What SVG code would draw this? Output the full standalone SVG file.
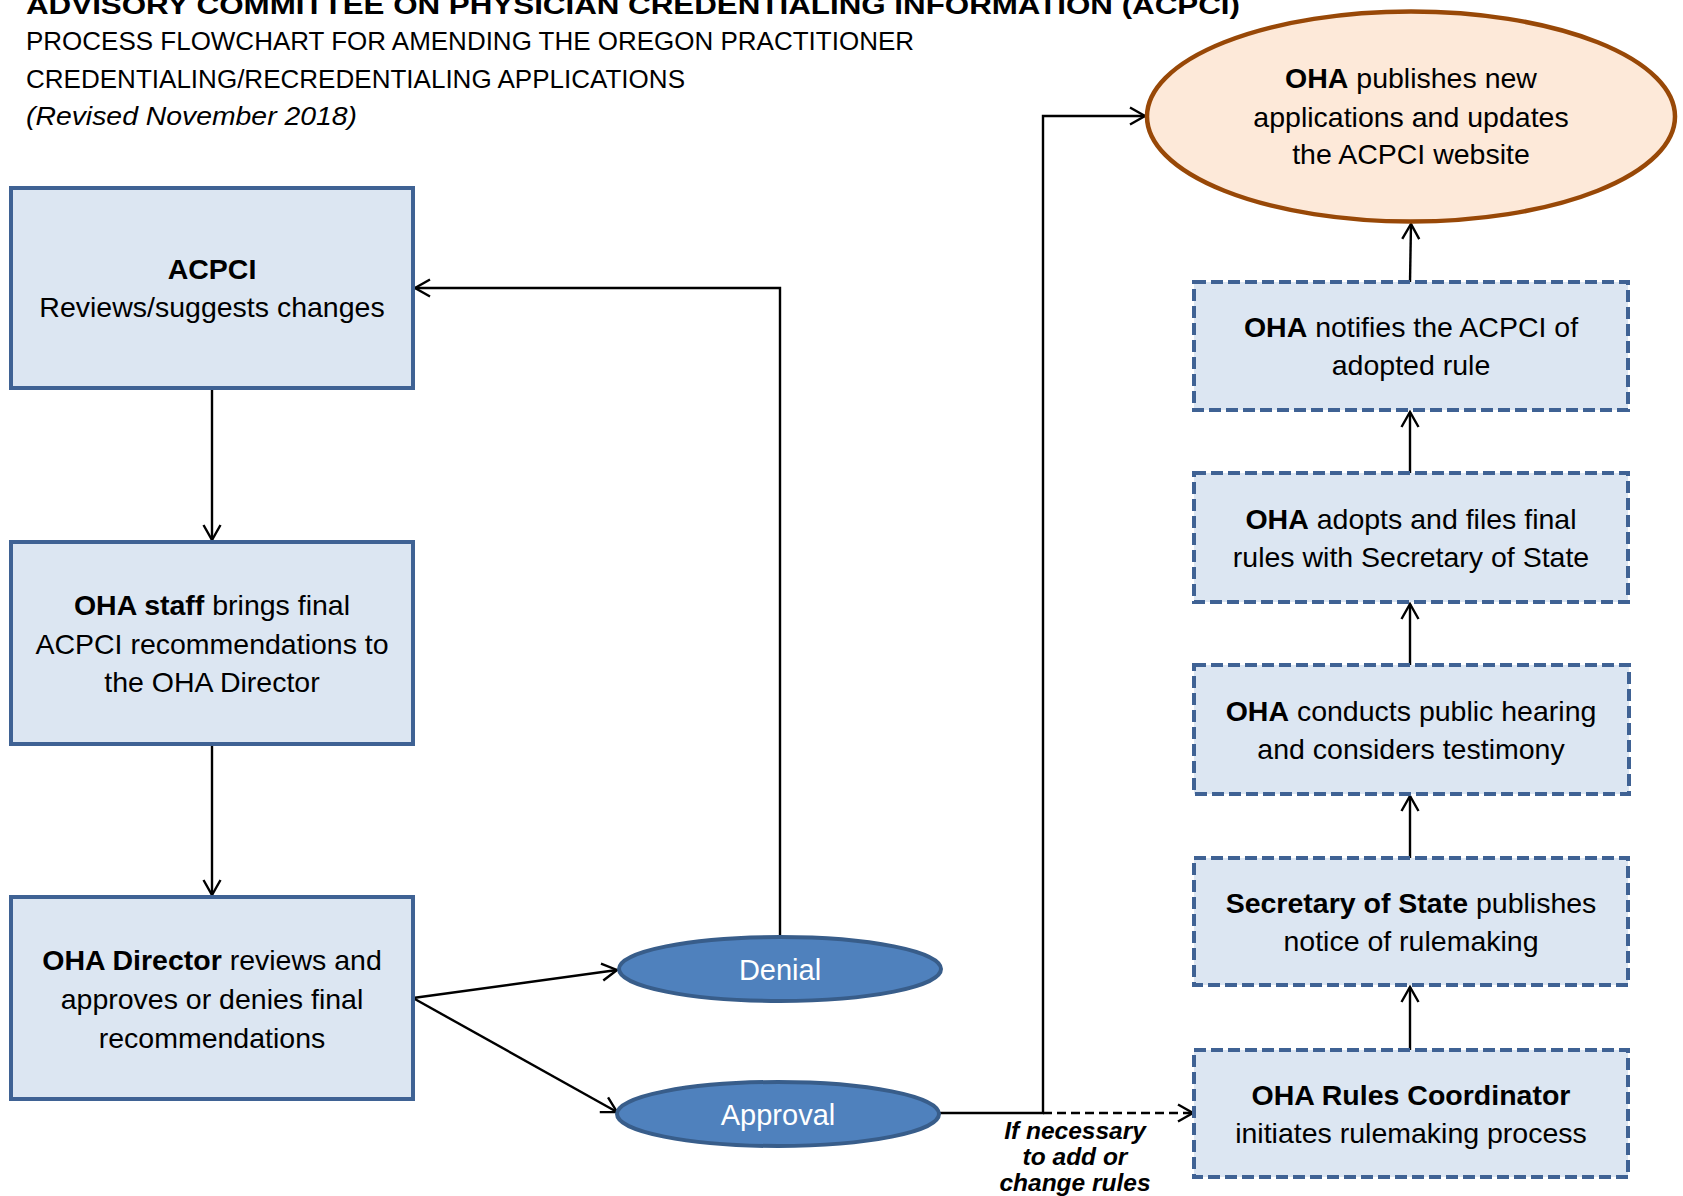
<svg xmlns="http://www.w3.org/2000/svg" width="1683" height="1196" viewBox="0 0 1683 1196">
<defs>
<style>
text{font-family:"Liberation Sans",Arial,sans-serif;fill:#000}
.hdr{font-size:26px}
.n{font-size:28.5px;text-anchor:middle}
.b{font-weight:bold}
.box{fill:#DCE6F2;stroke:#3F6294;stroke-width:4}
.dbox{fill:#DCE6F2;stroke:#3F6294;stroke-width:4;stroke-dasharray:12 5}
.oval{fill:#4F81BD;stroke:#385D8A;stroke-width:4}
.ow{fill:#fff;font-size:29px;text-anchor:middle}
.c{fill:none;stroke:#000;stroke-width:2.4;marker-end:url(#ah)}
.lbl{font-size:24.5px;font-weight:bold;font-style:italic;text-anchor:middle}
</style>
<marker id="ah" viewBox="0 0 20 20" refX="18" refY="10" markerWidth="20" markerHeight="20" orient="auto" markerUnits="userSpaceOnUse">
<path d="M3,1.5 L18,10 L3,18.5" fill="none" stroke="#000" stroke-width="2.4"/>
</marker>
</defs>
<rect width="1683" height="1196" fill="#fff"/>
<g id="header">
<text class="hdr b" x="26" y="14" textLength="1214" lengthAdjust="spacingAndGlyphs">ADVISORY COMMITTEE ON PHYSICIAN CREDENTIALING INFORMATION (ACPCI)</text>
<text class="hdr" x="26" y="50" textLength="888" lengthAdjust="spacingAndGlyphs">PROCESS FLOWCHART FOR AMENDING THE OREGON PRACTITIONER</text>
<text class="hdr" x="26" y="88" textLength="659" lengthAdjust="spacingAndGlyphs">CREDENTIALING/RECREDENTIALING APPLICATIONS</text>
<text class="hdr" x="26" y="125" font-style="italic" textLength="331" lengthAdjust="spacingAndGlyphs">(Revised November 2018)</text>
</g>
<g id="connectors">
<line class="c" x1="212" y1="388" x2="212" y2="540"/>
<line class="c" x1="212" y1="744" x2="212" y2="895"/>
<line class="c" x1="413" y1="998" x2="617" y2="970"/>
<line class="c" x1="413" y1="998" x2="617" y2="1112"/>
<polyline class="c" points="780,937 780,288 415,288"/>
<polyline class="c" points="939,1113 1043,1113 1043,116 1145,116"/>
<line class="c" x1="1043" y1="1113" x2="1193" y2="1113" stroke-dasharray="9 5"/>
<line class="c" x1="1410" y1="1050" x2="1410" y2="987"/>
<line class="c" x1="1410" y1="858" x2="1410" y2="796"/>
<line class="c" x1="1410" y1="665" x2="1410" y2="604"/>
<line class="c" x1="1410" y1="473" x2="1410" y2="412"/>
<line class="c" x1="1410" y1="282" x2="1411" y2="224"/>
</g>
<g id="n-acpci">
<rect class="box" x="11" y="188" width="402" height="200"/>
<text class="n" x="212" y="279"><tspan class="b">ACPCI</tspan></text>
<text class="n" x="212" y="317">Reviews/suggests changes</text>
</g>
<g id="n-staff">
<rect class="box" x="11" y="542" width="402" height="202"/>
<text class="n" x="212" y="615"><tspan class="b">OHA staff</tspan> brings final</text>
<text class="n" x="212" y="654">ACPCI recommendations to</text>
<text class="n" x="212" y="692">the OHA Director</text>
</g>
<g id="n-director">
<rect class="box" x="11" y="897" width="402" height="202"/>
<text class="n" x="212" y="970"><tspan class="b">OHA Director</tspan> reviews and</text>
<text class="n" x="212" y="1009">approves or denies final</text>
<text class="n" x="212" y="1048">recommendations</text>
</g>
<g id="n-denial">
<ellipse class="oval" cx="780" cy="969" rx="161" ry="32"/>
<text class="ow" x="780" y="980">Denial</text>
</g>
<g id="n-approval">
<ellipse class="oval" cx="778" cy="1114" rx="161" ry="32"/>
<text class="ow" x="778" y="1125">Approval</text>
</g>
<g id="l-ifnecessary">
<text class="lbl" x="1075" y="1139">If necessary</text>
<text class="lbl" x="1075" y="1165">to add or</text>
<text class="lbl" x="1075" y="1191">change rules</text>
</g>
<g id="n-publishes">
<ellipse cx="1411" cy="116.5" rx="264" ry="105" fill="#FDE9D9" stroke="#984807" stroke-width="4.5"/>
<text class="n" x="1411" y="88"><tspan class="b">OHA</tspan> publishes new</text>
<text class="n" x="1411" y="127">applications and updates</text>
<text class="n" x="1411" y="164">the ACPCI website</text>
</g>
<g id="n-notifies">
<rect class="dbox" x="1194" y="282" width="434" height="128"/>
<text class="n" x="1411" y="337"><tspan class="b">OHA</tspan> notifies the ACPCI of</text>
<text class="n" x="1411" y="375">adopted rule</text>
</g>
<g id="n-adopts">
<rect class="dbox" x="1194" y="473" width="434" height="129"/>
<text class="n" x="1411" y="529"><tspan class="b">OHA</tspan> adopts and files final</text>
<text class="n" x="1411" y="567">rules with Secretary of State</text>
</g>
<g id="n-hearing">
<rect class="dbox" x="1194" y="665" width="435" height="129"/>
<text class="n" x="1411" y="721"><tspan class="b">OHA</tspan> conducts public hearing</text>
<text class="n" x="1411" y="759">and considers testimony</text>
</g>
<g id="n-sos">
<rect class="dbox" x="1194" y="858" width="434" height="127"/>
<text class="n" x="1411" y="913"><tspan class="b">Secretary of State</tspan> publishes</text>
<text class="n" x="1411" y="951">notice of rulemaking</text>
</g>
<g id="n-coordinator">
<rect class="dbox" x="1194" y="1050" width="434" height="127"/>
<text class="n" x="1411" y="1105"><tspan class="b">OHA Rules Coordinator</tspan></text>
<text class="n" x="1411" y="1143">initiates rulemaking process</text>
</g>
</svg>
